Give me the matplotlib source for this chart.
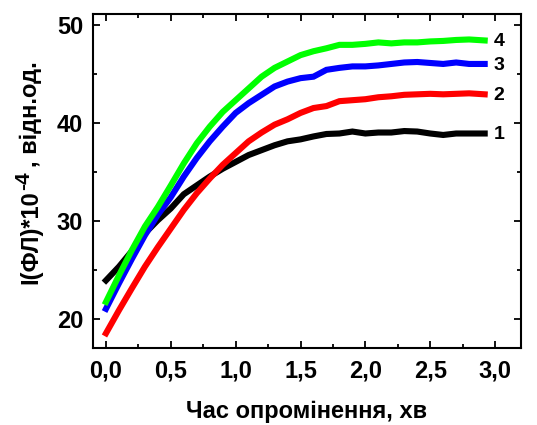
import numpy as np
import matplotlib.pyplot as plt
from matplotlib.ticker import MultipleLocator, FuncFormatter

# time points, min
t = [0.0, 0.1, 0.2, 0.3, 0.4, 0.5, 0.6, 0.7, 0.8, 0.9, 1.0, 1.1, 1.2, 1.3, 1.4,
     1.5, 1.6, 1.7, 1.8, 1.9, 2.0, 2.1, 2.2, 2.3, 2.4, 2.5, 2.6, 2.7, 2.8, 2.92]

curve1 = [23.9, 25.3, 26.9, 28.7, 30.05, 31.25, 32.7, 33.6, 34.5, 35.3, 36.0, 36.7, 37.2, 37.7, 38.1,
          38.3, 38.6, 38.85, 38.9, 39.1, 38.9, 39.0, 39.0, 39.15, 39.1, 38.9, 38.75, 38.9, 38.9, 38.9]
curve2 = [18.5, 20.85, 23.1, 25.3, 27.3, 29.2, 31.1, 32.8, 34.3, 35.7, 36.9, 38.1, 39.0, 39.8, 40.35,
          41.0, 41.5, 41.7, 42.2, 42.3, 42.4, 42.6, 42.7, 42.85, 42.9, 42.95, 42.9, 42.95, 43.0, 42.9]
curve3 = [21.0, 23.6, 26.1, 28.5, 30.6, 32.4, 34.5, 36.4, 38.1, 39.6, 41.0, 42.0, 42.85, 43.7, 44.2,
          44.55, 44.7, 45.4, 45.6, 45.75, 45.75, 45.85, 46.0, 46.15, 46.2, 46.1, 46.0, 46.15, 46.0, 46.0]
curve4 = [21.7, 24.4, 27.0, 29.4, 31.4, 33.6, 35.85, 37.9, 39.6, 41.1, 42.3, 43.5, 44.7, 45.6, 46.25,
          46.9, 47.3, 47.6, 47.95, 47.95, 48.05, 48.2, 48.1, 48.2, 48.2, 48.3, 48.35, 48.45, 48.5, 48.4]

labels = ["1", "2", "3", "4"]
colors = ["#000000", "#ff0000", "#0000ff", "#00ff00"]

plt.rcParams['font.family'] = ['Liberation Sans', 'DejaVu Sans']
plt.rcParams['font.weight'] = 'bold'

fig = plt.figure(figsize=(5.37, 4.25), dpi=100)
ax = fig.add_axes([93/537, 1-348/425, (521-93)/537, (348-14)/425])

for y, c, lab in zip([curve1, curve2, curve3, curve4], colors, labels):
    ax.plot(t, y, color=c, lw=4.4, solid_capstyle='projecting', solid_joinstyle='miter')
    ax.text(3.03, y[-1] - 0.15, lab, fontsize=14, fontweight='bold', ha='center', va='center')

ax.set_xlim(-0.1, 3.2)
ax.set_ylim(17, 51.1)
ax.xaxis.set_major_locator(MultipleLocator(0.5))
ax.xaxis.set_minor_locator(MultipleLocator(0.25))
ax.yaxis.set_major_locator(MultipleLocator(10))
ax.yaxis.set_minor_locator(MultipleLocator(5))
ax.xaxis.set_major_formatter(FuncFormatter(lambda v, p: f"{v:.1f}".replace(".", ",")))
ax.tick_params(which='both', direction='in', top=True, right=True, width=1.3, labelsize=17)
ax.tick_params(which='major', length=5)
ax.tick_params(axis='x', which='major', pad=8)
ax.tick_params(axis='y', which='major', pad=7)
ax.tick_params(which='minor', length=3)
for s in ax.spines.values():
    s.set_linewidth(1.5)

ax.set_xlabel("Час опромінення, хв", fontsize=17, fontweight='bold', labelpad=13)

# y label in three pieces so the exponent stays big
yl1 = fig.text(42/537, 1-284/425, "I(ФЛ)*10", rotation=90, fontsize=17, fontweight='bold',
               ha='right', va='bottom')
yl2 = ax.annotate("-4", xy=(1, 1), xycoords=yl1, xytext=(-6.5, 0), textcoords='offset points',
                  rotation=90, fontsize=15, fontweight='bold', ha='right', va='bottom',
                  annotation_clip=False)
yl3 = ax.annotate(", відн.од.", xy=(1, 1), xycoords=(yl1, yl2), xytext=(0, 3),
                  textcoords='offset points', rotation=90, fontsize=17,
                  fontweight='bold', ha='right', va='bottom', annotation_clip=False)

fig.savefig("out.png", dpi=100)
